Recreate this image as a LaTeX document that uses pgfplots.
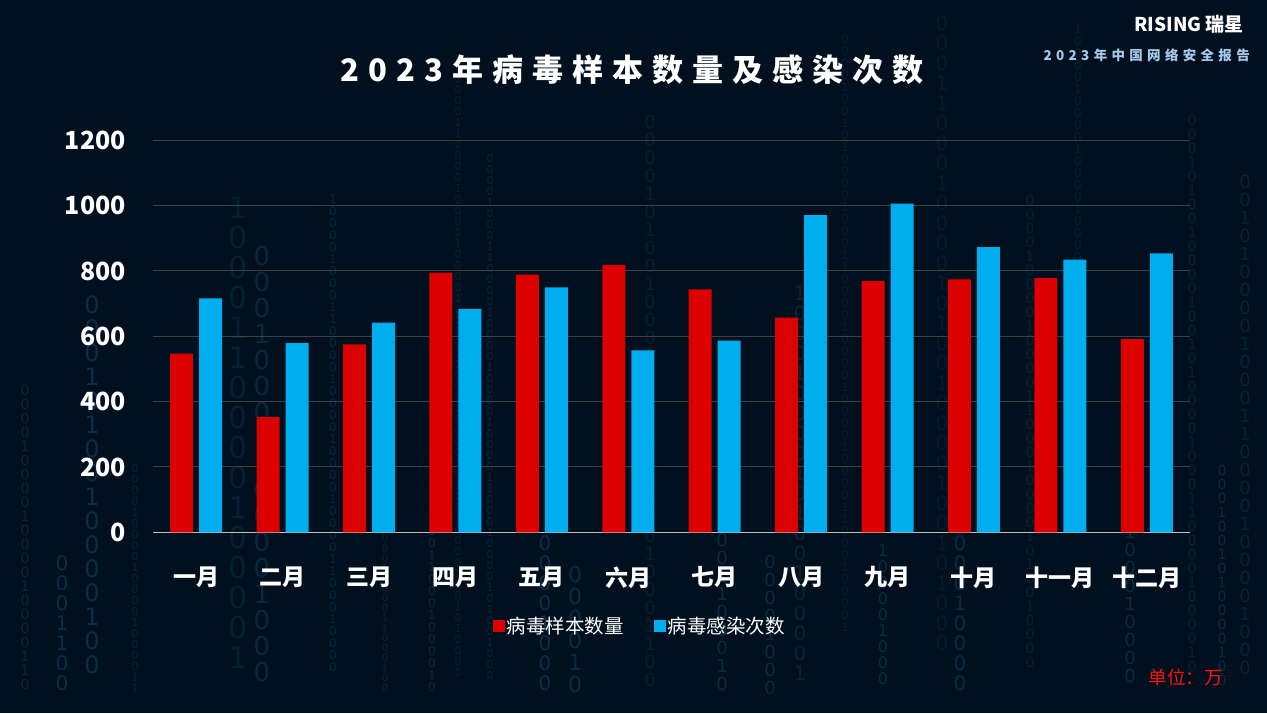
\documentclass[border=0pt]{standalone}
\usepackage{pgfplots}
\pgfplotsset{compat=1.18}
\usepackage{fontspec}
\setmainfont{Noto Sans CJK SC}
\newfontfamily\titlefont{Noto Sans CJK SC}[LetterSpace=29]
\newfontfamily\subfont{Noto Sans CJK SC}[LetterSpace=32]
\newfontfamily\digitfont{DejaVu Sans}

\definecolor{bgcolor}{HTML}{00101F}
\definecolor{barred}{HTML}{DC0000}
\definecolor{barblue}{HTML}{00AEEF}
\definecolor{gridgray}{HTML}{3C3F44}
\definecolor{axisgray}{HTML}{BFBFBF}
\definecolor{bincolor}{HTML}{2A7BB0}
\definecolor{subblue}{HTML}{A8C8E8}
\definecolor{unitred}{HTML}{FF1010}

% one faint column of binary digits in the background:
% x, top, size, opacity, count
\newcommand\bincol[5]{%
  \foreach \i in {1,...,#5}{%
    \pgfmathtruncatemacro\d{mod(\i*7+#1,5)==0 || mod(\i*3+#1,11)==0}%
    \node[inner sep=0pt, text=bincolor, opacity=#4,
          font=\digitfont\fontsize{#3}{#3}\selectfont]
      at (#1,{#2-(\i-0.5)*#3}) {\d};}}

\begin{document}
\begin{tikzpicture}[x=1pt,y=1pt]
\useasboundingbox (0,0) rectangle (1267,713);
\fill[bgcolor] (0,0) rectangle (1267,713);

\bincol{25}{330}{14}{0.22}{22}
\bincol{62}{160}{20}{0.28}{7}
\bincol{92}{420}{24}{0.28}{16}
\bincol{135}{250}{11}{0.18}{21}
\bincol{238}{520}{30}{0.14}{16}
\bincol{262}{470}{26}{0.22}{17}
\bincol{333}{520}{12}{0.22}{40}
\bincol{385}{190}{10}{0.20}{17}
\bincol{432}{260}{12}{0.25}{20}
\bincol{458}{640}{11}{0.16}{55}
\bincol{490}{560}{11}{0.18}{48}
\bincol{545}{180}{20}{0.28}{8}
\bincol{575}{150}{22}{0.25}{6}
\bincol{650}{600}{18}{0.14}{32}
\bincol{722}{200}{18}{0.25}{10}
\bincol{770}{160}{18}{0.25}{8}
\bincol{800}{430}{20}{0.18}{20}
\bincol{845}{680}{12}{0.14}{50}
\bincol{883}{170}{16}{0.25}{9}
\bincol{942}{700}{20}{0.11}{32}
\bincol{960}{200}{20}{0.25}{9}
\bincol{1030}{520}{14}{0.16}{34}
\bincol{1078}{690}{12}{0.15}{30}
\bincol{1130}{190}{18}{0.25}{9}
\bincol{1192}{600}{14}{0.16}{40}
\bincol{1222}{250}{14}{0.25}{16}
\bincol{1245}{540}{18}{0.18}{28}

% title and header
\node[text=white, inner sep=0pt, font=\titlefont\bfseries\fontsize{31}{31}\selectfont]
  at (632,643) {2023年病毒样本数量及感染次数};
\node[text=white, anchor=east, inner sep=0pt, font=\bfseries\fontsize{19}{19}\selectfont]
  at (1244,689) {RISING 瑞星};
\node[text=subblue, anchor=east, inner sep=0pt, font=\subfont\bfseries\fontsize{13.5}{13.5}\selectfont]
  at (1250,658) {2023年中国网络安全报告};
\node[text=unitred, anchor=east, inner sep=0pt, font=\fontsize{18.5}{18.5}\selectfont]
  at (1223,36) {单位：万};

\begin{axis}[
  at={(153pt,180.7pt)}, anchor=south west,
  scale only axis, width=1037pt, height=392pt,
  xmin=-0.5, xmax=11.5, ymin=0, ymax=1200,
  xtick={0,...,11},
  xticklabels={一月,二月,三月,四月,五月,六月,七月,八月,九月,十月,十一月,十二月},
  ytick={0,200,...,1200},
  axis x line*=bottom, axis y line*=left,
  x axis line style={draw=axisgray, line width=1.5pt, -},
  y axis line style={draw=none},
  major tick length=0pt,
  ymajorgrids, grid style={draw=gridgray, line width=1pt},
  /pgf/number format/assume math mode=true,
  /pgf/number format/1000 sep={},
  yticklabel style={text=white, anchor=east, inner sep=0pt, xshift=-27pt,
    font=\bfseries\fontsize{25}{25}\selectfont},
  xticklabel style={text=white, anchor=north, inner sep=0pt, yshift=-34pt,
    font=\bfseries\fontsize{23}{23}\selectfont},
  legend style={at={(0.4696,-0.239)}, anchor=center, draw=none, fill=none,
    text=white, font=\fontsize{19.5}{19.5}\selectfont,
    /tikz/every even column/.append style={column sep=28pt}},
  legend columns=2,
  legend image code/.code={\fill[#1] (0pt,-6pt) rectangle (12pt,6pt);},
]
\addplot[ybar, bar width=23pt, bar shift=-14.5pt, fill=barred, draw=none]
  coordinates {(0,547) (1,353) (2,575) (3,795) (4,789) (5,819)
               (6,744) (7,657) (8,770) (9,774) (10,778) (11,591)};
\addlegendentry{病毒样本数量}
\addplot[ybar, bar width=23pt, bar shift=14.5pt, fill=barblue, draw=none]
  coordinates {(0,716) (1,579) (2,642) (3,684) (4,750) (5,557)
               (6,587) (7,971) (8,1006) (9,873) (10,835) (11,854)};
\addlegendentry{病毒感染次数}
\end{axis}
\end{tikzpicture}
\end{document}
